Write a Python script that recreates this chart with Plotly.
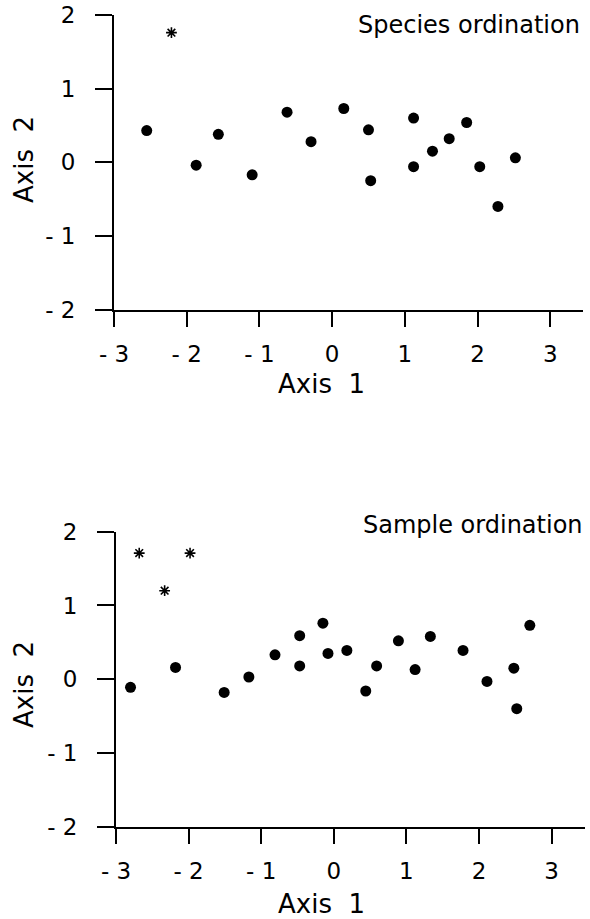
import plotly.graph_objects as go

# ---------------- data ----------------
species_dot_x = [-2.55, -1.87, -1.565, -1.10, -0.62, -0.29, 0.16, 0.50, 0.53, 1.12, 1.12, 1.38, 1.61, 1.85, 2.03, 2.28, 2.52]
species_dot_y = [0.43, -0.04, 0.38, -0.17, 0.68, 0.28, 0.73, 0.44, -0.25, 0.60, -0.06, 0.15, 0.32, 0.54, -0.06, -0.60, 0.06]
species_star_x = [-2.21]
species_star_y = [1.76]

sample_dot_x = [-2.80, -2.18, -1.51, -1.17, -0.81, -0.47, -0.47, -0.15, -0.08, 0.18, 0.44, 0.59, 0.89, 1.12, 1.33, 1.78, 2.11, 2.48, 2.52, 2.70]
sample_dot_y = [-0.11, 0.16, -0.18, 0.03, 0.33, 0.59, 0.18, 0.76, 0.35, 0.39, -0.16, 0.18, 0.52, 0.13, 0.58, 0.39, -0.03, 0.15, -0.40, 0.73]
sample_star_x = [-2.68, -1.98, -2.33]
sample_star_y = [1.71, 1.71, 1.20]

x_tickvals = [-3, -2, -1, 0, 1, 2, 3]
x_ticktext = ["- 3", "- 2", "- 1", "0", "1", "2", "3"]
y_tickvals = [-2, -1, 0, 1, 2]
y_ticktext = ["- 2", "- 1", "0", "1", "2"]

panel_titles = ["Species ordination", "Sample ordination"]
x_title = "Axis  1"
y_title = "Axis  2"

# ---------------- figure ----------------
W, H = 590, 919
FONT = "DejaVu Sans"

def px(x):
    return x / W

def py(y):
    return 1 - y / H

fig = go.Figure()

dot_marker = dict(size=11, color="black")
star_marker = dict(symbol="asterisk", size=9, color="black", line=dict(color="black", width=1.6))

fig.add_trace(go.Scatter(x=species_dot_x, y=species_dot_y, mode="markers", marker=dot_marker,
                         xaxis="x", yaxis="y", showlegend=False, hoverinfo="skip"))
fig.add_trace(go.Scatter(x=species_star_x, y=species_star_y, mode="markers", marker=star_marker,
                         xaxis="x", yaxis="y", showlegend=False, hoverinfo="skip"))
fig.add_trace(go.Scatter(x=sample_dot_x, y=sample_dot_y, mode="markers", marker=dot_marker,
                         xaxis="x2", yaxis="y2", showlegend=False, hoverinfo="skip"))
fig.add_trace(go.Scatter(x=sample_star_x, y=sample_star_y, mode="markers", marker=star_marker,
                         xaxis="x2", yaxis="y2", showlegend=False, hoverinfo="skip"))

common = dict(
    showline=True, linecolor="black", linewidth=2,
    ticks="outside", tickwidth=2, tickcolor="black",
    showgrid=False, zeroline=False, automargin=False,
    tickfont=dict(family=FONT, size=23, color="black"),
    fixedrange=True,
)

fig.update_layout(
    width=W, height=H,
    margin=dict(l=0, r=0, t=0, b=0, pad=0),
    paper_bgcolor="white", plot_bgcolor="white",
    xaxis=dict(domain=[px(114), px(583)], range=[-3, 3.45], anchor="y", ticklen=15,
               tickvals=x_tickvals, ticktext=x_ticktext, ticklabelstandoff=8, **common),
    yaxis=dict(domain=[py(309.5), py(15)], range=[-2, 2], anchor="x", ticklen=17,
               tickvals=y_tickvals, ticktext=y_ticktext, ticklabelstandoff=15, **common),
    xaxis2=dict(domain=[px(116), px(585)], range=[-3, 3.46], anchor="y2", ticklen=15,
                tickvals=x_tickvals, ticktext=x_ticktext, ticklabelstandoff=8, **common),
    yaxis2=dict(domain=[py(826.7), py(531.7)], range=[-2, 2], anchor="x2", ticklen=17,
                tickvals=y_tickvals, ticktext=y_ticktext, ticklabelstandoff=15, **common),
)

ann_font_title = dict(family=FONT, size=24, color="black")
ann_font_axis = dict(family=FONT, size=26, color="black")

annotations = [
    dict(text=panel_titles[0], x=px(582), y=py(25), xanchor="right", yanchor="middle",
         xref="paper", yref="paper", showarrow=False, font=ann_font_title),
    dict(text=panel_titles[1], x=px(585), y=py(525), xanchor="right", yanchor="middle",
         xref="paper", yref="paper", showarrow=False, font=ann_font_title),
    dict(text=x_title, x=px(322), y=py(384), xanchor="center", yanchor="middle",
         xref="paper", yref="paper", showarrow=False, font=ann_font_axis),
    dict(text=x_title, x=px(322), y=py(904), xanchor="center", yanchor="middle",
         xref="paper", yref="paper", showarrow=False, font=ann_font_axis),
    dict(text=y_title, x=px(24), y=py(160), xanchor="center", yanchor="middle", textangle=-90,
         xref="paper", yref="paper", showarrow=False, font=ann_font_axis),
    dict(text=y_title, x=px(24), y=py(685), xanchor="center", yanchor="middle", textangle=-90,
         xref="paper", yref="paper", showarrow=False, font=ann_font_axis),
]
fig.update_layout(annotations=annotations)

fig.write_html("out.html", config={"displayModeBar": False},
               post_script="document.body.style.margin='0';")
